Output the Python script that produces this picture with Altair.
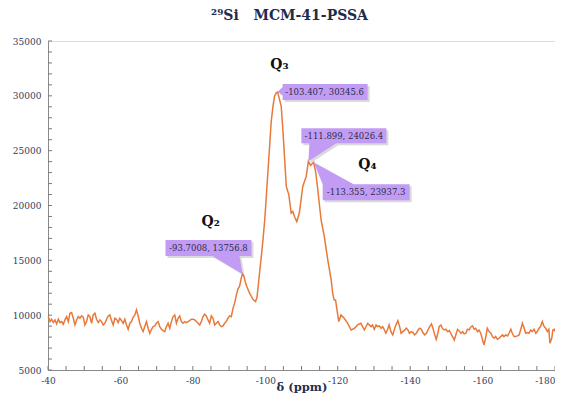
import altair as alt
import pandas as pd

# ---- spectrum ----
ppm = [
    -40.09, -40.55, -41.01, -41.47, -41.93, -42.39, -42.85, -43.31, -43.76, -44.22,
    -44.68, -45.14, -45.60, -46.06, -46.52, -46.98, -47.44, -47.90, -48.36, -48.82,
    -49.28, -49.74, -50.19, -50.65, -51.11, -51.57, -52.03, -52.49, -52.95, -53.41,
    -53.87, -54.33, -54.79, -55.25, -55.71, -56.17, -56.62, -57.08, -57.54, -58.00,
    -58.46, -58.92, -59.38, -59.84, -60.30, -60.76, -61.22, -61.68, -62.14, -62.60,
    -63.05, -63.51, -63.97, -64.43, -64.89, -65.35, -65.81, -66.27, -66.73, -67.19,
    -67.65, -68.11, -68.57, -69.03, -69.48, -69.94, -70.40, -70.86, -71.32, -71.78,
    -72.24, -72.70, -73.16, -73.62, -74.08, -74.54, -75.00, -75.46, -75.91, -76.37,
    -76.83, -77.29, -77.75, -78.21, -78.67, -79.13, -79.59, -80.05, -80.51, -80.97,
    -81.43, -81.89, -82.34, -82.80, -83.26, -83.72, -84.18, -84.64, -85.10, -85.56,
    -86.02, -86.48, -86.94, -87.40, -87.86, -88.32, -88.77, -89.23, -89.69, -90.15,
    -90.61,
    -91.07, -91.53, -91.99, -92.45, -92.91, -93.40, -93.7008, -94.10, -94.50, -94.90,
    -95.66, -96.60, -97.30, -97.70, -98.00, -98.40, -98.90, -99.40, -99.85, -100.30,
    -100.70, -101.20, -101.60, -102.10, -102.55, -103.00, -103.407, -103.90, -104.40, -104.85,
    -105.30, -105.80, -106.50, -107.15, -107.60, -108.06, -108.70, -109.40, -110.35, -111.30,
    -111.899, -112.50, -113.355, -113.90, -114.50, -115.40, -116.30, -117.25, -118.20, -118.60,
    -119.00, -119.40, -119.80, -120.30, -120.90, -121.80, -122.75, -123.70, -124.60, -125.50,
    -126.40, -127.35, -128.30, -128.70, -129.20, -129.60, -130.10, -130.60, -131.00, -131.50,
    -132.00, -132.40, -132.90, -133.30, -133.80, -134.20, -134.70, -135.20, -135.90, -136.60,
    -137.10, -137.50, -138.00, -138.50, -138.90, -139.40, -139.80, -140.30, -140.80, -141.20,
    -141.70, -142.10, -142.60, -143.10, -143.50, -144.00, -144.50, -144.90, -145.40, -145.90,
    -146.30, -146.80, -147.20, -147.70,
    -148.00, -148.50, -148.90, -149.40, -149.90, -150.30, -150.80, -151.20, -151.70, -152.20,
    -152.60, -153.10, -153.50, -154.00, -154.50, -154.90, -155.40, -155.80, -156.30, -156.70,
    -157.20, -157.70, -158.10, -158.60, -159.00, -159.50, -160.00, -160.40, -160.90, -161.30,
    -161.80, -162.30, -162.70, -163.20, -163.60, -164.10, -164.60, -165.00, -165.50, -165.90,
    -166.40, -166.90, -167.30, -167.80, -168.20, -168.70, -169.10, -169.60, -170.10, -170.50,
    -171.00, -171.40, -171.90, -172.40, -172.80, -173.30, -173.70, -174.20, -174.70, -175.10,
    -175.60, -176.00, -176.50, -176.90, -177.40, -177.90, -178.30, -178.60, -179.10, -179.40,
    -179.80, -180.00,
]
intensity = [
    9870, 9414, 9627, 9323, 9566, 9201, 9627, 9323, 9414, 9171,
    9566, 9870, 9414, 10175, 10236, 9718, 9110, 9566, 9870, 9718,
    9932, 9810, 9110, 9414, 10023, 9870, 9262, 10023, 10175, 9627,
    9323, 9566, 9414, 9110, 9262, 9627, 9932, 10023, 9505, 9110,
    9718, 9627, 9323, 9718, 9505, 9262, 9627, 9110, 8714, 9262,
    9414, 9810, 10023, 10479, 9932, 9262, 8805, 8501, 8957, 9414,
    8805, 8349, 8714, 8957, 9018, 9262, 9414, 8957, 8714, 8592,
    8501, 8957, 9262, 8805, 9414, 9870, 10023, 9262, 9718, 9932,
    9414, 9262, 9414, 9323, 9414, 9505, 9627, 9627, 9566, 9414,
    9262, 9110, 9414, 9870, 10084, 9932, 9566, 9262, 9932, 9718,
    9110, 9262, 9414, 9110, 8957, 9018, 9262, 9414, 9718, 9932,
    9870,
    10600, 11100, 11800, 12400, 12650, 13450, 13757, 13550, 13000, 12610,
    12000, 11450, 11240, 11600, 12500, 13800, 15350, 17000, 18700, 20900,
    22960, 25400, 27530, 29000, 29960, 30250, 30346, 29700, 29040, 26920,
    24480, 21740, 20980, 19310, 19460, 19000, 18540, 19310, 21740, 22650,
    24026, 23650, 23937, 23100, 21440, 18700, 17170, 15050, 13220, 12000,
    11400, 11390, 10480, 9410, 10020, 9720, 9260, 8650, 8800, 9110,
    9260, 8650, 9260, 9110, 8960, 9110, 8720, 9110, 8960, 9020,
    8810, 8960, 8650, 8350, 8720, 9110, 8500, 8200, 8960, 9500,
    8960, 8350, 8500, 8650, 8810, 8650, 8350, 8500, 8420, 8200,
    8350, 8600, 8810, 8720, 8420, 8200, 8350, 8650, 8960, 9200,
    8810, 8200, 7800, 8420,
    8958, 9110, 8805, 8653, 8714, 8500, 8590, 8350, 8045, 7740,
    8197, 8714, 8590, 8350, 8500, 8288, 8350, 8714, 8653, 8897,
    9019, 8714, 8805, 8500, 8653, 8350, 7740, 7283, 8045, 8805,
    8500, 8350, 8045, 7892, 8045, 7800, 7892, 8045, 8197, 8045,
    8197, 8106, 8350, 8714, 8350, 8045, 8045, 8106, 8197, 8653,
    9262, 8897, 8350, 8410, 8350, 8653, 8500, 8714, 8350, 8500,
    8805, 8958, 9414, 9019, 8805, 8500, 8714, 7436, 7892, 8653,
    8714, 8500,
]

# ---- axes ----
x_major = [-40, -60, -80, -100, -120, -140, -160, -180]
x_minor = [-40, -45, -50, -55, -60, -65, -70, -75, -80, -85, -90, -95, -100, -105,
           -110, -115, -120, -125, -130, -135, -140, -145, -150, -155, -160, -165,
           -170, -175, -180]
y_major = [5000, 10000, 15000, 20000, 25000, 30000, 35000]
y_minor = [5000, 6000, 7000, 8000, 9000, 10000, 11000, 12000, 13000, 14000, 15000,
           16000, 17000, 18000, 19000, 20000, 21000, 22000, 23000, 24000, 25000,
           26000, 27000, 28000, 29000, 30000, 31000, 32000, 33000, 34000, 35000]

# ---- peak labels ----
q_text = ["Q₂", "Q₃", "Q₄"]
q_x = [-84.9, -103.9, -128.2]
q_y = [18515, 32850, 23720]

# ---- data-point callouts ----
c_x = [-103.407, -111.899, -113.355, -93.7008]
c_y = [30345.6, 24026.4, 23937.3, 13756.8]
c_text = ["-103.407, 30345.6", "-111.899, 24026.4", "-113.355, 23937.3", "-93.7008, 13756.8"]
# callout outline (box + pointer), in units of 100 px around the point
c_shape = [
    "M0,0 L0.05,-0.05 L0.05,-0.08 L0.9,-0.08 L0.9,0.08 L0.05,0.08 L0.05,0.03 Z",
    "M0,0 L0.28,-0.18 L0.78,-0.18 L0.78,-0.33 L-0.07,-0.33 L-0.07,-0.18 L0.01,-0.18 Z",
    "M0,0 L0.09,0.22 L0.09,0.38 L0.96,0.38 L0.96,0.22 L0.40,0.22 Z",
    "M0,0 L-0.03,-0.18 L0.09,-0.18 L0.09,-0.34 L-0.77,-0.34 L-0.77,-0.18 L-0.30,-0.18 Z",
]
c_dx = [47, 35.5, 52.5, -34]
c_dy = [0, -25.5, 30, -26]

W, H = 507, 329
FONT = "DejaVu Serif"
LABEL_COLOR = "#33405c"
TICK_COLOR = "#7a7a7a"

xs = alt.Scale(domain=[-180, -40], reverse=True, nice=False, zero=False)
ys = alt.Scale(domain=[5000, 35000], nice=False, zero=False)

ax_x = alt.Axis(values=x_major, labelExpr="'' + datum.value", ticks=False, tickSize=0,
                grid=False, domainColor="#8a8a8a", labelFont=FONT, labelFontSize=9,
                labelColor=LABEL_COLOR, labelPadding=6, labelFlush=False, labelOverlap=False,
                labelAlign={"condition": {"test": "datum.value <= -180", "value": "right"},
                            "value": "center"},
                title="δ (ppm)", titleFont=FONT, titleFontSize=11.5, titleFontWeight="bold",
                titleColor="#22304f", titleBaseline="alphabetic", titleY=20)
ax_y = alt.Axis(values=y_major, format="d", ticks=False, tickSize=0, grid=False,
                domainColor="#8a8a8a", labelFont=FONT, labelFontSize=9, labelFlush=False,
                labelOverlap=False, labelColor=LABEL_COLOR, labelPadding=7, title=None)

spec = pd.DataFrame({"ppm": ppm, "I": intensity})

line = alt.Chart(spec).mark_line(color="#e8793a", strokeWidth=1.5).encode(
    x=alt.X("ppm:Q", scale=xs, axis=ax_x),
    y=alt.Y("I:Q", scale=ys, axis=ax_y),
    order="ppm:Q",
)

# inward tick marks
yt = alt.Chart(pd.DataFrame({"v": y_minor})).mark_rule(color=TICK_COLOR, strokeWidth=1).encode(
    y=alt.Y("v:Q", scale=ys, axis=ax_y), x=alt.value(0), x2=alt.value(4))
xt = alt.Chart(pd.DataFrame({"p": x_minor})).mark_rule(color=TICK_COLOR, strokeWidth=1).encode(
    x=alt.X("p:Q", scale=xs, axis=ax_x), y=alt.value(H), y2=alt.value(H - 4))

qlab = alt.Chart(pd.DataFrame({"t": q_text, "x": q_x, "y": q_y})).mark_text(
    font=FONT, fontSize=14, fontWeight="bold", color="#111111").encode(
    x=alt.X("x:Q", scale=xs, axis=ax_x), y=alt.Y("y:Q", scale=ys, axis=ax_y), text="t:N")

layers = [line, yt, xt, qlab]
for i in range(len(c_x)):
    d = pd.DataFrame({"x": [c_x[i]], "y": [c_y[i]], "t": [c_text[i]]})
    base = alt.Chart(d).encode(x=alt.X("x:Q", scale=xs, axis=ax_x),
                               y=alt.Y("y:Q", scale=ys, axis=ax_y))
    layers.append(base.mark_point(shape=c_shape[i], size=40000, filled=True, fill="#555555",
                                  opacity=0.22, strokeWidth=0, xOffset=2, yOffset=2))
    layers.append(base.mark_point(shape=c_shape[i], size=40000, filled=True, fill="#c29cf4",
                                  opacity=1, strokeWidth=0))
    layers.append(base.mark_text(font=FONT, fontSize=8.5, color="#2a2d4a", dx=c_dx[i], dy=c_dy[i],
                                 align="center", baseline="middle").encode(text="t:N"))

chart = alt.layer(*layers).properties(
    width=W, height=H,
    padding={"left": 40, "top": 33, "right": 0, "bottom": 24},
    autosize=alt.AutoSizeParams(type="none"),
    title=alt.Title("²⁹Si\u00a0\u00a0\u00a0MCM-41-PSSA", font=FONT, fontSize=14, fontWeight="bold",
                    color="#1f2c4c", offset=14, dx=-12, anchor="middle"),
).configure_view(stroke="#a8a8a8", strokeWidth=1).configure(background="white")

chart.save("out.html", embed_options={"renderer": "svg", "actions": False})
